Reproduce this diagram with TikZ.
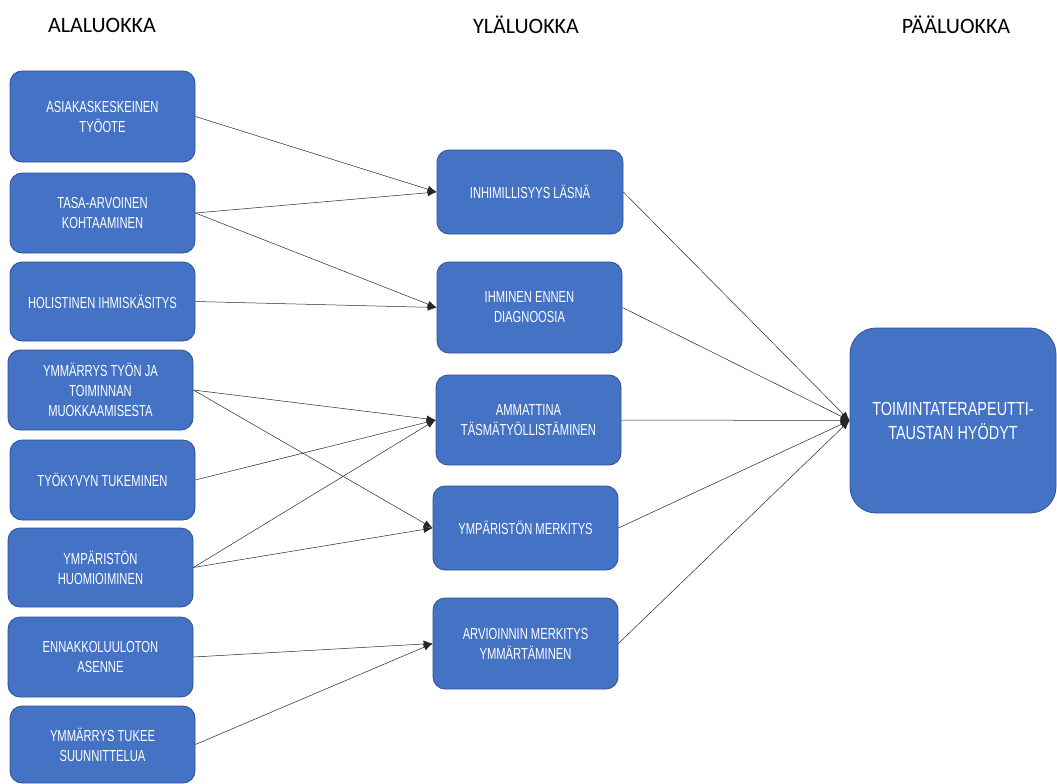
\documentclass[tikz,border=0pt]{standalone}
\usepackage{fontspec}
\setmainfont[FakeStretch=0.70]{Liberation Sans}
\newfontfamily\bigfont[FakeStretch=0.76]{Liberation Sans}
\newfontfamily\headfont{Carlito}
\usepackage{xcolor}
\usepackage{tikz}
\usetikzlibrary{shapes,arrows.meta}
\definecolor{boxblue}{HTML}{4472C4}
\definecolor{boxedge}{HTML}{2F528F}
\tikzstyle{block} = [rectangle, rounded corners=12pt, draw=boxedge, line width=0.8pt, fill=boxblue, text=white, align=center, font=\fontsize{16}{20}\selectfont, minimum width=185pt, minimum height=80pt, inner sep=0pt]
\tikzstyle{head} = [font=\headfont\fontsize{22}{24}\selectfont, inner sep=0pt]
\tikzstyle{line} = [draw=black!85, line width=0.5pt, -{Latex[length=9pt,width=7pt]}]

\begin{document}
\begin{tikzpicture}[x=1pt,y=-1pt]
\useasboundingbox (0,0) rectangle (1057,784);
\node [head] (ala) at (102,25) {ALALUOKKA};
\node [head] (yla) at (526,25) {YLÄLUOKKA};
\node [head] (paa) at (956,25) {PÄÄLUOKKA};

\node [block, minimum height=91pt] (asiakas) at (102.5,116.5) {ASIAKASKESKEINEN\\TYÖOTE};
\node [block] (tasa) at (102.5,213) {TASA-ARVOINEN\\KOHTAAMINEN};
\node [block, minimum height=79pt] (holist) at (102.5,301.5) {HOLISTINEN IHMISKÄSITYS};
\node [block] (muokkaus) at (100.5,390) {YMMÄRRYS TYÖN JA\\TOIMINNAN\\MUOKKAAMISESTA};
\node [block] (tyokyky) at (102.5,480) {TYÖKYVYN TUKEMINEN};
\node [block, minimum height=79pt] (huomio) at (100.5,567.5) {YMPÄRISTÖN\\HUOMIOIMINEN};
\node [block] (ennakko) at (100.5,657) {ENNAKKOLUULOTON\\ASENNE};
\node [block, minimum height=77pt] (suunnit) at (102.5,744.5) {YMMÄRRYS TUKEE\\SUUNNITTELUA};

\node [block, minimum width=186pt, minimum height=84pt] (inhimil) at (530,192) {INHIMILLISYYS LÄSNÄ};
\node [block, minimum height=91pt] (ihminen) at (529.5,307.5) {IHMINEN ENNEN\\DIAGNOOSIA};
\node [block, minimum height=90pt] (ammatti) at (528.5,420) {AMMATTINA\\TÄSMÄTYÖLLISTÄMINEN};
\node [block, minimum height=84pt] (ymparisto) at (525.5,528) {YMPÄRISTÖN MERKITYS};
\node [block, minimum height=91pt] (arviointi) at (525.5,643.5) {ARVIOINNIN MERKITYS\\YMMÄRTÄMINEN};

\node [block, rounded corners=26pt, minimum width=206pt, minimum height=185pt, font=\bigfont\fontsize{19}{24}\selectfont] (hyodyt) at (953,420.5) {TOIMINTATERAPEUTTI-\\TAUSTAN HYÖDYT};

\path [line] (asiakas.east) -- (inhimil.west);
\path [line] (tasa.east) -- (inhimil.west);
\path [line] (tasa.east) -- (ihminen.west);
\path [line] (holist.east) -- (ihminen.west);
\path [line] (muokkaus.east) -- (ammatti.west);
\path [line] (muokkaus.east) -- (ymparisto.west);
\path [line] (tyokyky.east) -- (ammatti.west);
\path [line] (huomio.east) -- (ammatti.west);
\path [line] (huomio.east) -- (ymparisto.west);
\path [line] (ennakko.east) -- (arviointi.west);
\path [line] (suunnit.east) -- (arviointi.west);

\path [line] (inhimil.east) -- (hyodyt.west);
\path [line] (ihminen.east) -- (hyodyt.west);
\path [line] (ammatti.east) -- (hyodyt.west);
\path [line] (ymparisto.east) -- (hyodyt.west);
\path [line] (arviointi.east) -- (hyodyt.west);
\end{tikzpicture}
\end{document}
